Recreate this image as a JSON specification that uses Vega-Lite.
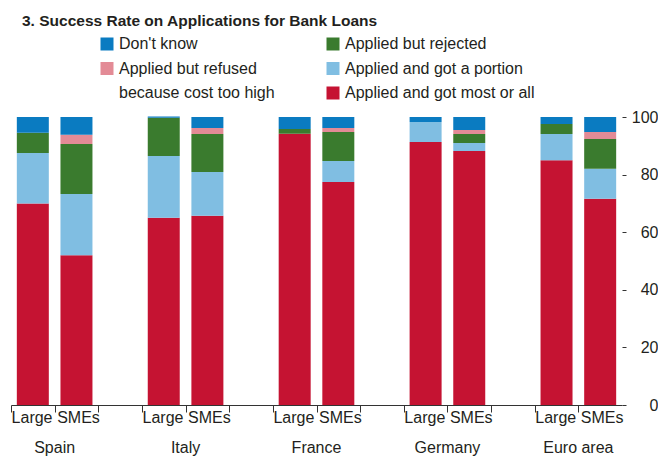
{
  "$schema": "https://vega.github.io/schema/vega-lite/v6.json",
  "autosize": {"type": "none"},
  "padding": {"left": 11, "top": 117, "right": 36, "bottom": 53},
  "width": 611,
  "height": 288,
  "background": "white",
  "config": {"view": {"stroke": null}},
  "title": {
    "text": "3. Success Rate on Applications for Bank Loans",
    "anchor": "start",
    "frame": "group",
    "dx": 11,
    "offset": 7,
    "font": "Liberation Sans",
    "fontSize": 15.5,
    "fontWeight": "bold",
    "color": "#231F20"
  },
  "data": {
    "values": [
      {"country": "Spain", "size": "Large", "cat": "Applied and got most or all", "value": 70},
      {"country": "Spain", "size": "Large", "cat": "Applied and got a portion", "value": 17.5},
      {"country": "Spain", "size": "Large", "cat": "Applied but rejected", "value": 7},
      {"country": "Spain", "size": "Large", "cat": "Don't know", "value": 5.5},
      {"country": "Spain", "size": "SMEs", "cat": "Applied and got most or all", "value": 52},
      {"country": "Spain", "size": "SMEs", "cat": "Applied and got a portion", "value": 21.3},
      {"country": "Spain", "size": "SMEs", "cat": "Applied but rejected", "value": 17.3},
      {"country": "Spain", "size": "SMEs", "cat": "Applied but refused because cost too high", "value": 3.2},
      {"country": "Spain", "size": "SMEs", "cat": "Don't know", "value": 6.2},
      {"country": "Italy", "size": "Large", "cat": "Applied and got most or all", "value": 65},
      {"country": "Italy", "size": "Large", "cat": "Applied and got a portion", "value": 21.5},
      {"country": "Italy", "size": "Large", "cat": "Applied but rejected", "value": 13.2},
      {"country": "Italy", "size": "Large", "cat": "Don't know", "value": 0.5},
      {"country": "Italy", "size": "SMEs", "cat": "Applied and got most or all", "value": 65.7},
      {"country": "Italy", "size": "SMEs", "cat": "Applied and got a portion", "value": 15.2},
      {"country": "Italy", "size": "SMEs", "cat": "Applied but rejected", "value": 13.2},
      {"country": "Italy", "size": "SMEs", "cat": "Applied but refused because cost too high", "value": 2.1},
      {"country": "Italy", "size": "SMEs", "cat": "Don't know", "value": 3.8},
      {"country": "France", "size": "Large", "cat": "Applied and got most or all", "value": 94.2},
      {"country": "France", "size": "Large", "cat": "Applied but rejected", "value": 1.6},
      {"country": "France", "size": "Large", "cat": "Don't know", "value": 4.2},
      {"country": "France", "size": "SMEs", "cat": "Applied and got most or all", "value": 77.4},
      {"country": "France", "size": "SMEs", "cat": "Applied and got a portion", "value": 7.3},
      {"country": "France", "size": "SMEs", "cat": "Applied but rejected", "value": 10.1},
      {"country": "France", "size": "SMEs", "cat": "Applied but refused because cost too high", "value": 1.4},
      {"country": "France", "size": "SMEs", "cat": "Don't know", "value": 3.8},
      {"country": "Germany", "size": "Large", "cat": "Applied and got most or all", "value": 91.3},
      {"country": "Germany", "size": "Large", "cat": "Applied and got a portion", "value": 7},
      {"country": "Germany", "size": "Large", "cat": "Don't know", "value": 1.7},
      {"country": "Germany", "size": "SMEs", "cat": "Applied and got most or all", "value": 88.2},
      {"country": "Germany", "size": "SMEs", "cat": "Applied and got a portion", "value": 2.8},
      {"country": "Germany", "size": "SMEs", "cat": "Applied but rejected", "value": 3.1},
      {"country": "Germany", "size": "SMEs", "cat": "Applied but refused because cost too high", "value": 1.4},
      {"country": "Germany", "size": "SMEs", "cat": "Don't know", "value": 4.5},
      {"country": "Euro area", "size": "Large", "cat": "Applied and got most or all", "value": 85},
      {"country": "Euro area", "size": "Large", "cat": "Applied and got a portion", "value": 9.1},
      {"country": "Euro area", "size": "Large", "cat": "Applied but rejected", "value": 3.5},
      {"country": "Euro area", "size": "Large", "cat": "Don't know", "value": 2.4},
      {"country": "Euro area", "size": "SMEs", "cat": "Applied and got most or all", "value": 71.6},
      {"country": "Euro area", "size": "SMEs", "cat": "Applied and got a portion", "value": 10.4},
      {"country": "Euro area", "size": "SMEs", "cat": "Applied but rejected", "value": 10.4},
      {"country": "Euro area", "size": "SMEs", "cat": "Applied but refused because cost too high", "value": 2.4},
      {"country": "Euro area", "size": "SMEs", "cat": "Don't know", "value": 5.2}
    ]
  },
  "transform": [
    {"calculate": "datum.country + ' ' + datum.size", "as": "slot"},
    {"calculate": "indexof(['Applied and got most or all','Applied and got a portion','Applied but rejected','Applied but refused because cost too high',\"Don't know\"], datum.cat)", "as": "stackorder"}
  ],
  "layer": [
    {
      "mark": {"type": "bar"},
      "encoding": {
        "x": {
          "field": "slot",
          "type": "nominal",
          "sort": null,
          "scale": {
            "domain": ["Spain Large", "Spain SMEs", "Spain gap", "Italy Large", "Italy SMEs", "Italy gap", "France Large", "France SMEs", "France gap", "Germany Large", "Germany SMEs", "Germany gap", "Euro area Large", "Euro area SMEs"],
            "paddingInner": 0.267,
            "paddingOuter": 0.1335
          },
          "axis": {
            "title": null,
            "orient": "bottom",
            "domainColor": "#333333",
            "tickColor": "#333333",
            "tickOffset": -21.82,
            "tickSize": 7,
            "labelPadding": -3,
            "labelAngle": 0,
            "labelFont": "Liberation Sans",
            "labelFontSize": 16,
            "labelColor": "#231F20",
            "labelOverlap": false,
            "labelBound": false,
            "labelExpr": "indexof(datum.value,'Large')>=0 ? 'Large' : (indexof(datum.value,'SMEs')>=0 ? 'SMEs' : '')",
            "labelAlign": {"condition": {"test": "indexof(datum.value,'Large')>=0", "value": "right"}, "value": "left"},
            "labelOffset": {"condition": {"test": "indexof(datum.value,'Large')>=0", "value": 41}, "value": 2},
            "encode": {
              "ticks": {
                "update": {
                  "y": {"value": -7},
                  "y2": {"signal": "indexof(datum.value,'SMEs')>=0 ? 28 : 0"}
                }
              }
            }
          }
        },
        "y": {
          "field": "value",
          "type": "quantitative",
          "stack": "zero",
          "scale": {"domain": [0, 100], "nice": false},
          "axis": {
            "title": null,
            "orient": "right",
            "values": [0, 20, 40, 60, 80, 100],
            "domain": false,
            "grid": false,
            "tickColor": "#333333",
            "tickSize": 4,
            "labelPadding": 32,
            "labelAlign": "right",
            "labelFont": "Liberation Sans",
            "labelFontSize": 16,
            "labelColor": "#231F20"
          }
        },
        "order": {"field": "stackorder", "type": "quantitative", "sort": "ascending"},
        "color": {
          "field": "cat",
          "type": "nominal",
          "scale": {
            "domain": ["Don't know", "Applied but refused because cost too high", "(cont.)", "Applied but rejected", "Applied and got a portion", "Applied and got most or all"],
            "range": ["#0A7BC1", "#E38B96", "#FFFFFF", "#3A7B2E", "#80BEE2", "#C51332"]
          },
          "legend": {
            "orient": "none",
            "legendX": 88,
            "legendY": -81,
            "columns": 2,
            "title": null,
            "symbolType": "square",
            "symbolSize": 169,
            "symbolStrokeWidth": 0,
            "labelFont": "Liberation Sans",
            "labelFontSize": 16,
            "labelColor": "#231F20",
            "labelOffset": 4,
            "labelLimit": 300,
            "rowPadding": 8.5,
            "columnPadding": 50,
            "labelExpr": "datum.value === 'Applied but refused because cost too high' ? 'Applied but refused' : (datum.value === '(cont.)' ? 'because cost too high' : datum.label)"
          }
        }
      }
    },
    {
      "mark": {"type": "rule", "opacity": 0},
      "encoding": {
        "x": {
          "field": "slot",
          "type": "nominal",
          "sort": null,
          "axis": {
            "title": null,
            "orient": "bottom",
            "domain": false,
            "ticks": false,
            "tickSize": 0,
            "labelPadding": 34,
            "labelAngle": 0,
            "labelAlign": "center",
            "labelOffset": 21.82,
            "labelFont": "Liberation Sans",
            "labelFontSize": 16,
            "labelColor": "#231F20",
            "labelOverlap": false,
            "labelBound": false,
            "labelExpr": "indexof(datum.value,'Large')>=0 ? replace(datum.value,' Large','') : ''"
          }
        }
      }
    }
  ],
  "resolve": {"axis": {"x": "independent"}}
}
